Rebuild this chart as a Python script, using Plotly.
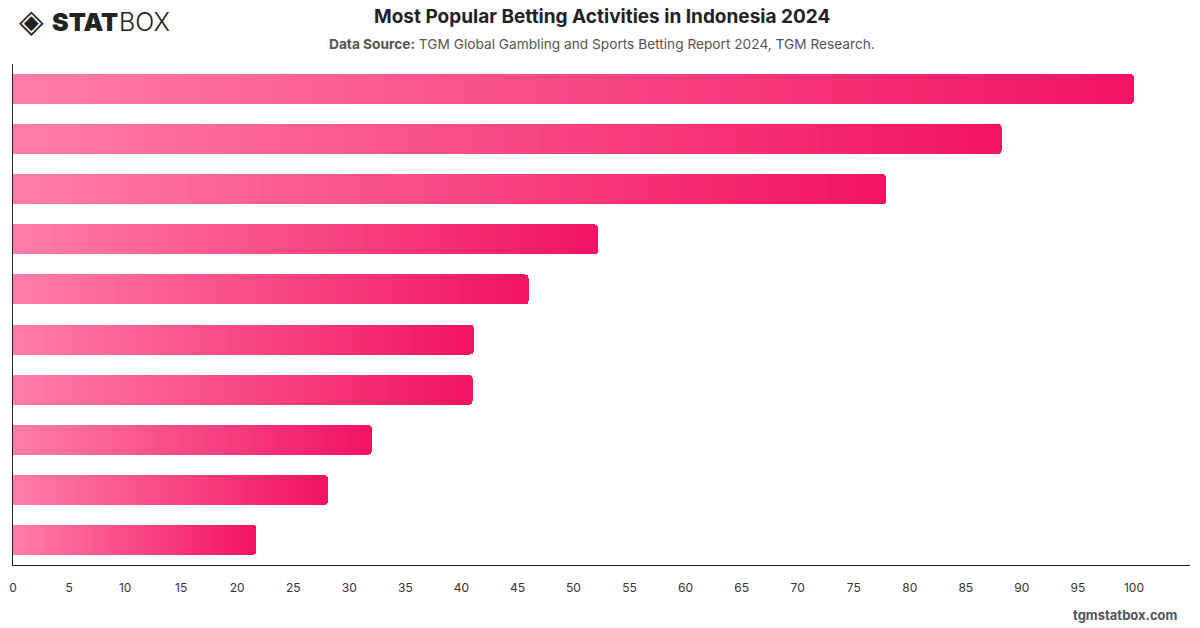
import plotly.graph_objects as go

categories = ["Lottery", "Sports Betting", "Casino Games", "Slot Machines", "Card Games",
              "Bingo", "Horse Racing", "eSports Betting", "Poker", "Fantasy Sports"]
values = [100, 88.2, 77.9, 52.2, 46.0, 41.1, 41.0, 32.0, 28.1, 21.7]
x_ticks = list(range(0, 101, 5))

c_start = (255, 124, 170)
c_end = (242, 19, 98)
N = 60

fig = go.Figure()
for i in range(N):
    t = i / (N - 1)
    col = tuple(round(a + (b - a) * t) for a, b in zip(c_start, c_end))
    fig.add_trace(go.Bar(
        y=categories, x=[v / N for v in values], orientation="h",
        marker=dict(color="rgb(%d,%d,%d)" % col, line=dict(width=0)),
        hoverinfo="skip", showlegend=False,
    ))

L, R, T, B = 9, 10, 64, 63
fig.update_layout(
    barmode="stack", bargap=0.4, barcornerradius=4,
    width=1200, height=628, paper_bgcolor="white", plot_bgcolor="white",
    margin=dict(l=L, r=R, t=T, b=B),
    font=dict(family="Inter, Roboto, sans-serif", color="#333"),
    xaxis=dict(range=[0, 105], tickvals=x_ticks, showgrid=False, zeroline=False,
               showline=True, linecolor="#222", linewidth=1.2, ticks="",
               tickfont=dict(size=12, color="#333"), ticklabelstandoff=11),
    yaxis=dict(autorange="reversed", showticklabels=False, showgrid=False, zeroline=False,
               showline=True, linecolor="#222", linewidth=1.2, ticks=""),
)

def pa2(px, py, text, size, color, xanchor="center", family=None, weight=None):
    x0, x1 = L, 1200 - R
    y0, y1 = T, 628 - B
    f = dict(size=size, color=color, family=family or "Inter, Roboto, sans-serif")
    if weight:
        f["weight"] = weight
    fig.add_annotation(x=(px - x0) / (x1 - x0), y=(y1 - py) / (y1 - y0), xref="paper", yref="paper",
                       xanchor=xanchor, yanchor="middle", showarrow=False, text=text, font=f)

pa2(600, 17, "<b>Most Popular Betting Activities in Indonesia 2024</b>", 19, "#222")
pa2(600, 44, "<b>Data Source:</b> TGM Global Gambling and Sports Betting Report 2024, TGM Research.", 13.7, "#555")
pa2(1180, 615, "<b>tgmstatbox.com</b>", 13, "#555", xanchor="right")
pa2(13, 21, "◈", 32, "#222", xanchor="left", family="DejaVu Sans")
pa2(46, 22, "STAT", 25, "#222", xanchor="left", family="Inter, Lato, sans-serif", weight=900)
pa2(113, 22, "BOX", 25, "#222", xanchor="left", family="Inter, Lato, sans-serif", weight=300)

fig.write_html("out.html")
